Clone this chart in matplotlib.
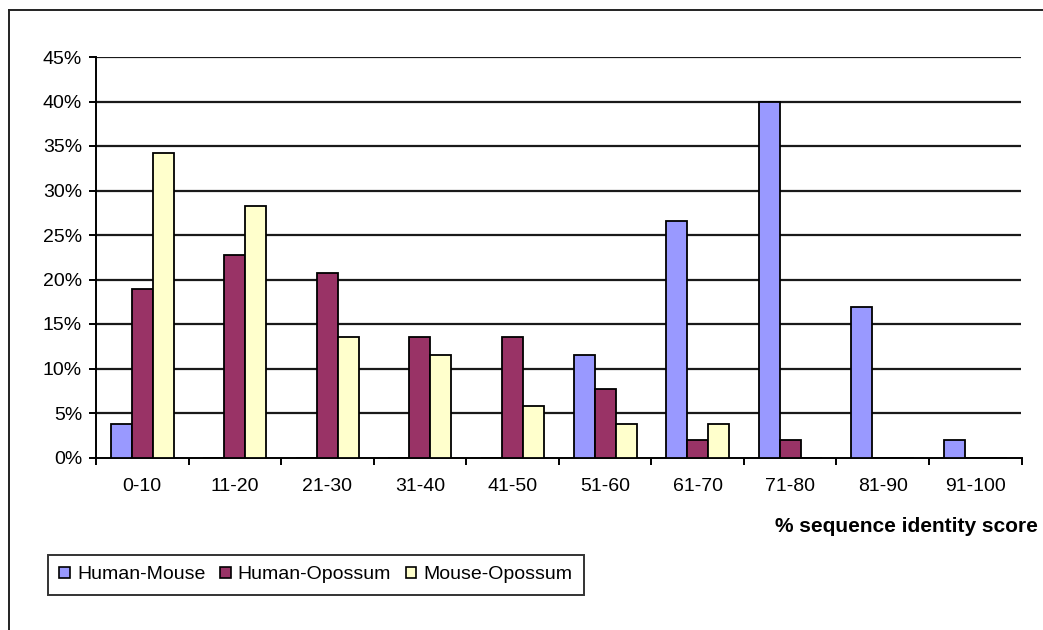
import matplotlib
matplotlib.use("Agg")
import matplotlib.pyplot as plt
import numpy as np
from matplotlib.lines import Line2D
from matplotlib.patches import Patch

categories = ["0-10", "11-20", "21-30", "31-40", "41-50", "51-60", "61-70", "71-80", "81-90", "91-100"]
human_mouse = [3.8, 0, 0, 0, 0, 11.5, 26.6, 39.9, 16.9, 2.0]
human_opossum = [18.9, 22.7, 20.7, 13.5, 13.5, 7.7, 2.0, 2.0, 0, 0]
mouse_opossum = [34.2, 28.3, 13.5, 11.5, 5.8, 3.8, 3.8, 0, 0, 0]
series_names = ["Human-Mouse", "Human-Opossum", "Mouse-Opossum"]
colors = ["#9999FF", "#993366", "#FFFFCC"]
yticks = [0, 5, 10, 15, 20, 25, 30, 35, 40, 45]

plt.rcParams['font.family'] = ['Liberation Sans', 'DejaVu Sans']

W, H = 1043, 630
fig = plt.figure(figsize=(W / 100, H / 100), dpi=100)
ax = fig.add_axes([96 / W, 1 - 457.5 / H, (1021.5 - 96) / W, (457.5 - 57) / H])

x = np.arange(len(categories))
bw = 0.227
for k, (vals, c) in enumerate(zip([human_mouse, human_opossum, mouse_opossum], colors)):
    ax.bar(x + (k - 1) * bw, vals, width=bw, color=c, edgecolor="black", linewidth=1.3, zorder=3)

ax.set_xlim(-0.5, len(categories) - 0.5)
ax.set_ylim(0, 45)
ax.set_yticks(yticks)
ax.set_yticklabels([f"{t}%" for t in yticks], fontsize=14)
for t in yticks[1:]:
    ax.axhline(t, color="#1a1a1a", linewidth=1.6, zorder=1)

ax.set_xticks(np.arange(len(categories) + 1) - 0.5)
ax.set_xticklabels([])
ax.set_xticks(x, minor=True)
ax.set_xticklabels(categories, minor=True, fontsize=14)
ax.tick_params(axis="x", which="major", direction="out", length=5, width=1.4, color="black")
ax.tick_params(axis="x", which="minor", length=0, pad=15)
ax.tick_params(axis="y", direction="out", length=5, width=1.4, pad=5, color="black")

for s in ["top", "right"]:
    ax.spines[s].set_visible(False)
ax.spines["left"].set_linewidth(1.4)
ax.spines["bottom"].set_linewidth(1.4)

fig.text(1038 / W, 1 - 527 / H, "% sequence identity score", ha="right", va="center",
         fontsize=15, fontweight="bold")

handles = [Patch(facecolor=c, edgecolor="black", linewidth=1.2) for c in colors]
leg = fig.legend(handles, series_names, loc="upper left",
                 bbox_to_anchor=(48 / W, 1 - 555 / H), ncol=3, fontsize=14,
                 frameon=True, fancybox=False, edgecolor="black",
                 handlelength=0.55, handleheight=0.55, handletextpad=0.36,
                 columnspacing=0.75, borderpad=0.58, borderaxespad=0)
leg.get_frame().set_linewidth(1.4)

fig.add_artist(Line2D([8.5 / W, 8.5 / W], [1 - 10 / H, 0], transform=fig.transFigure,
                      color="#222222", linewidth=1.4))
fig.add_artist(Line2D([8.5 / W, 1], [1 - 10 / H, 1 - 10 / H], transform=fig.transFigure,
                      color="#222222", linewidth=1.4))

fig.savefig("out.png", dpi=100)
